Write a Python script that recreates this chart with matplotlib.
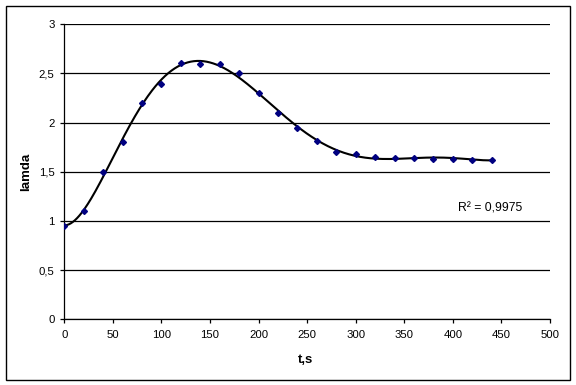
import numpy as np
import matplotlib
matplotlib.use("Agg")
import matplotlib.pyplot as plt
from matplotlib.patches import Rectangle

# Data
t = [0, 20, 40, 60, 80, 100, 120, 140, 160, 180, 200, 220, 240, 260, 280,
     300, 320, 340, 360, 380, 400, 420, 440]
landa = [0.95, 1.10, 1.50, 1.80, 2.20, 2.39, 2.61, 2.60, 2.60, 2.50, 2.30, 2.10,
         1.95, 1.81, 1.70, 1.68, 1.65, 1.64, 1.64, 1.635, 1.635, 1.625, 1.62]
x_ticks = [0, 50, 100, 150, 200, 250, 300, 350, 400, 450, 500]
y_ticks = [0, 0.5, 1, 1.5, 2, 2.5, 3]
y_tick_labels = ["0", "0,5", "1", "1,5", "2", "2,5", "3"]
r2_text = "R² = 0,9975"

plt.rcParams['font.family'] = ['Liberation Sans', 'DejaVu Sans']

W, H = 576, 385
fig = plt.figure(figsize=(W / 100, H / 100), dpi=100)
fig.patch.set_facecolor('white')

# outer frame
fig.patches.append(Rectangle((5.5 / W, (H - 379.5) / H), (570 - 5.5) / W, (379.5 - 5.5) / H,
                             transform=fig.transFigure, fill=False, edgecolor='black',
                             linewidth=1.0))

left, right = 64.3 / W, 550 / W
bottom, top = (H - 319.3) / H, (H - 24.3) / H
ax = fig.add_axes([left, bottom, right - left, top - bottom])

# polynomial trend line (6th order)
tt = np.array(t, float)
yy = np.array(landa, float)
p = np.polynomial.Polynomial.fit(tt, yy, 6)
xs = np.linspace(0, 440, 400)
ax.plot(xs, p(xs), color='black', linewidth=1.5, zorder=3)

ax.plot(t, landa, linestyle='none', marker='D', markersize=3.0,
        color='#000080', markeredgecolor='#000080', zorder=4)

ax.set_xlim(0, 500)
ax.set_ylim(0, 3)
ax.set_xticks(x_ticks)
ax.set_xticklabels([str(v) for v in x_ticks])
ax.set_yticks(y_ticks)
ax.set_yticklabels(y_tick_labels)
ax.yaxis.grid(True, color='black', linewidth=0.9)
ax.set_axisbelow(True)
for s in ['top', 'right']:
    ax.spines[s].set_visible(False)
for s in ['left', 'bottom']:
    ax.spines[s].set_linewidth(0.9)
ax.tick_params(axis='both', direction='out', length=3, width=0.9, labelsize=8.2)
ax.tick_params(axis='y', pad=4.0)
ax.tick_params(axis='x', pad=5.0)

ax.text(405, 1.13, r2_text, fontsize=8.8, ha='left', va='center')

fig.text(26 / W, (H - 172) / H, "lamda", rotation=90, fontsize=9.5, fontweight='bold',
         ha='center', va='center')
fig.text(306 / W, (H - 360) / H, "t,s", fontsize=9.5, fontweight='bold',
         ha='center', va='center')

fig.savefig("out.png", dpi=100)
